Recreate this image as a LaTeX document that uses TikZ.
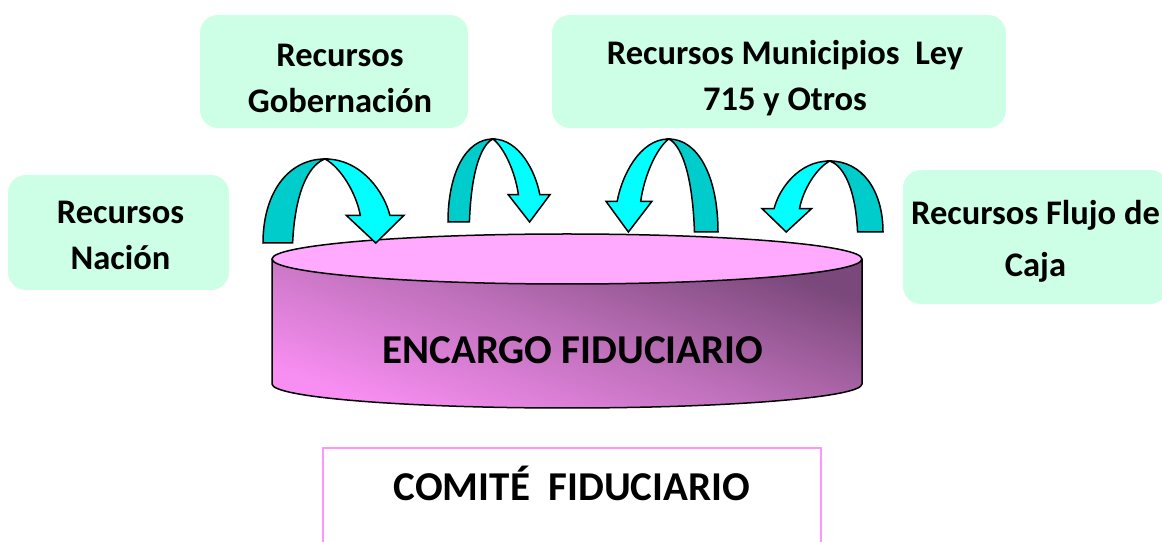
\documentclass[tikz,border=0pt]{standalone}
\usepackage{fontspec}
\setmainfont{Carlito}
\definecolor{boxmint}{RGB}{204,255,230}
\definecolor{arrowdark}{RGB}{0,204,204}
\definecolor{arrowlight}{RGB}{0,255,255}
\definecolor{cyltop}{RGB}{255,170,255}
\definecolor{cylpink}{RGB}{248,142,242}
\definecolor{cylmid}{RGB}{190,112,186}
\definecolor{cyldark}{RGB}{122,72,122}
\definecolor{comiteline}{RGB}{255,150,255}

\tikzset{
    fuente/.style={fill=boxmint, rounded corners=18pt, inner sep=0pt},
    fuentetxt/.style={align=center, inner sep=0pt, font=\fontsize{34.5}{46}\selectfont\bfseries},
    curvarrow/.pic={
        \filldraw[fill=arrowdark] (0,0) .. controls (0,0.6) and (0.18,1) .. (0.44,1)
            .. controls (0.35,0.95) and (0.23,0.7) .. (0.21,0) -- cycle;
        \filldraw[fill=arrowlight] (0.44,1) .. controls (0.7,1) and (0.86,0.6) .. (0.9,0.33)
            -- (1,0.33) -- (0.8,0) -- (0.59,0.33) -- (0.69,0.33)
            .. controls (0.66,0.6) and (0.55,0.9) .. (0.44,1) -- cycle;
    }
}

\begin{document}
\begin{tikzpicture}[x=1pt, y=1pt, line width=1.5pt]
    \useasboundingbox (0,0) rectangle (1162,541);
    \clip (0,0) rectangle (1162,541);

    % the four sources
    \node[fuente, minimum width=268pt, minimum height=113pt] (gob) at (334,469.5) {};
    \node[fuente, minimum width=454pt, minimum height=113pt] (mun) at (779,469.5) {};
    \node[fuente, minimum width=221pt, minimum height=115pt] (nac) at (118.5,308.5) {};
    \node[fuente, minimum width=265pt, minimum height=134pt] (flu) at (1035.5,304) {};
    \node[fuentetxt, xshift=6pt, yshift=-7pt] (gobtxt) at (gob) {Recursos\\Gobernaci\'on};
    \node[fuentetxt, xshift=6pt, yshift=-7pt] (muntxt) at (mun) {Recursos Municipios\ \ Ley\\715 y Otros};
    \node[fuentetxt, xshift=2pt, yshift=-3pt] (nactxt) at (nac) {Recursos\\Naci\'on};
    \node[fuentetxt, yshift=-4pt, font=\fontsize{34.5}{52}\selectfont\bfseries] (flutxt) at (flu) {Recursos Flujo de\\Caja};

    % encargo fiduciario
    \shade[shading=axis, top color=cyldark, bottom color=cylpink, middle color=cylmid, shading angle=-20]
        (272,282) -- (272,157) arc[start angle=180, end angle=360, x radius=295, y radius=24]
        -- (862,282) -- cycle;
    \draw (272,282) -- (272,157) arc[start angle=180, end angle=360, x radius=295, y radius=24]
        -- (862,282);
    \filldraw[fill=cyltop] (567,282) ellipse[x radius=295, y radius=25];
    \node[font=\fontsize{41}{48}\selectfont\bfseries] (encargo) at (573,191) {ENCARGO FIDUCIARIO};

    % flechas
    \pic[xscale=141, yscale=84] at (263,298) {curvarrow};
    \pic[xscale=102, yscale=83] at (448,319) {curvarrow};
    \pic[xscale=-112, yscale=93] at (718,309) {curvarrow};
    \pic[xscale=-121, yscale=71] at (883,309) {curvarrow};

    % comite
    \draw[comiteline, line width=2pt] (323,-10) -- (323,93) -- (821,93) -- (821,-10);
    \node[font=\fontsize{41}{48}\selectfont\bfseries] (comite) at (572,58) {COMIT\'E\ \ FIDUCIARIO};
\end{tikzpicture}
\end{document}
